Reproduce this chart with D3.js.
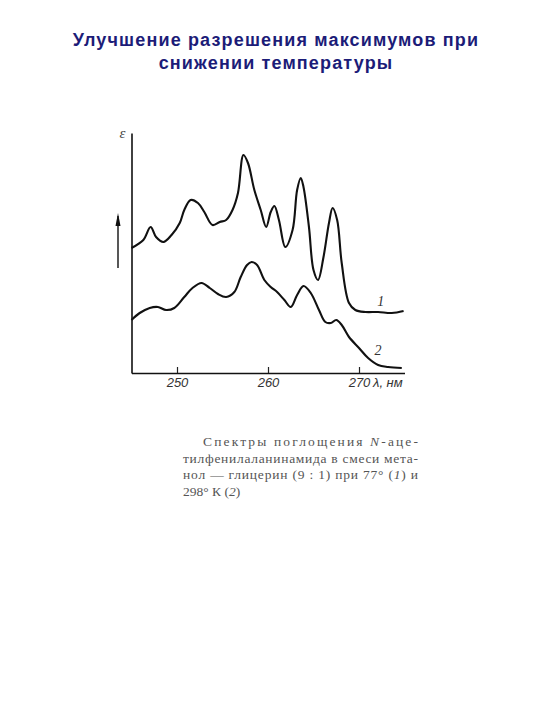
<!DOCTYPE html>
<html><head><meta charset="utf-8">
<script src="https://cdn.jsdelivr.net/npm/d3@7"></script>
<style>
html,body{margin:0;padding:0;background:#fff;}
svg{display:block;}
</style></head>
<body>
<script>
// ---- data ----
const titleLines = ["Улучшение разрешения максимумов при", "снижении температуры"];
const xTicks = [250, 260, 270];
const xUnit = "λ, нм";
const yLabel = "ε";
// curve 1 (77 K)
const lambda1 = [245.0, 246.3, 247.1, 247.7, 248.5, 249.4, 250.3, 250.8, 251.5, 252.3, 253.0, 253.9, 254.7, 255.4, 256.1, 256.7, 257.3, 257.8, 258.5, 259.2, 259.8, 260.3, 260.7, 261.2, 261.9, 262.7, 263.2, 263.6, 263.9, 264.5, 265.0, 265.5, 266.1, 266.7, 267.1, 267.6, 268.1, 268.9, 269.6, 270.7, 272.1, 273.6, 274.9];
const eps1 = [125, 133, 146, 136, 131, 138, 150, 163, 173, 170, 161, 148, 151, 153, 163, 180, 218, 210, 183, 163, 146, 161, 167, 153, 126, 143, 183, 195, 186, 146, 103, 93, 116, 150, 165, 153, 110, 70, 63, 61, 61, 60, 62];
// curve 2 (298 K)
const lambda2 = [245.0, 245.9, 247.0, 247.9, 248.8, 249.7, 250.8, 251.7, 252.7, 253.6, 254.5, 255.4, 256.3, 257.0, 257.7, 258.2, 258.8, 259.6, 260.3, 261.0, 261.8, 262.5, 263.2, 263.9, 264.7, 265.6, 266.3, 266.9, 267.5, 268.1, 268.9, 270.0, 271.0, 272.1, 273.2, 274.7];
const eps2 = [53, 60, 65, 66, 63, 65, 76, 85, 90, 85, 79, 76, 81, 96, 108, 111, 108, 93, 86, 81, 73, 66, 78, 87, 80, 63, 51, 50, 53, 48, 36, 25, 15, 8, 6, 5];
const curveLabels = ["1", "2"];
// caption lines as [text, italic] fragments
const captionLines = [
  [["Спектры поглощения ", false], ["N", true], ["-аце-", false]],
  [["тилфенилаланинамида в смеси мета-", false]],
  [["нол — глицерин (9 : 1) при 77° (", false], ["1", true], [") и", false]],
  [["298° К (", false], ["2", true], [")", false]]
];

const W = 540, H = 720;
const svg = d3.select("body").append("svg").attr("width", W).attr("height", H);

// title
const titleG = svg.append("g")
  .attr("font-family", "'Liberation Sans', Arial, sans-serif")
  .attr("font-weight", "bold").attr("font-size", 18).attr("letter-spacing", 1.15)
  .attr("fill", "#1c1c78").attr("text-anchor", "middle");
titleLines.forEach((t, i) => titleG.append("text").attr("x", 276).attr("y", 46 + i * 23).text(t));

// scales
const x = d3.scaleLinear().domain([245, 275]).range([131.5, 404.5]);
const y = d3.scaleLinear().domain([0, 240]).range([373, 133]);

// axes
const xAxis = d3.axisBottom(x).tickValues(xTicks).tickSize(-6).tickSizeOuter(0).tickPadding(5);
const gx = svg.append("g").attr("transform", `translate(0,${y(0)})`).call(xAxis);
gx.select(".domain").attr("stroke", "#111").attr("stroke-width", 1.6);
gx.selectAll(".tick line").attr("stroke", "#222").attr("stroke-width", 1.2);
gx.selectAll(".tick text").attr("font-family", "'Liberation Sans', Arial, sans-serif")
  .attr("font-style", "italic").attr("font-size", 13).attr("fill", "#333");
gx.append("text").attr("x", x(270) + 14).attr("y", 13.5).attr("text-anchor", "start")
  .attr("font-family", "'Liberation Sans', Arial, sans-serif").attr("font-style", "italic")
  .attr("font-size", 13).attr("fill", "#333").text(xUnit);

const yAxis = d3.axisLeft(y).tickValues([]).tickSizeOuter(0);
const gy = svg.append("g").attr("transform", `translate(${x(245)},0)`).call(yAxis);
gy.select(".domain").attr("stroke", "#111").attr("stroke-width", 1.6);
svg.append("text").attr("x", x(245) - 9).attr("y", y(240) + 5).attr("text-anchor", "middle")
  .attr("font-family", "'Liberation Serif', serif").attr("font-style", "italic")
  .attr("font-size", 15).attr("fill", "#444").text(yLabel);

// arrow beside y axis
svg.append("line").attr("x1", 118).attr("x2", 118).attr("y1", 268).attr("y2", 216)
  .attr("stroke", "#111").attr("stroke-width", 1.4);
svg.append("path").attr("d", "M115.5,226 L118,213 L120.5,226 Z").attr("fill", "#111");

// curves
const line = d3.line().x(d => x(d[0])).y(d => y(d[1])).curve(d3.curveCatmullRom.alpha(0.5));
const s1 = lambda1.map((l, i) => [l, eps1[i]]);
const s2 = lambda2.map((l, i) => [l, eps2[i]]);
[s1, s2].forEach(s => svg.append("path").datum(s).attr("d", line)
  .attr("fill", "none").attr("stroke", "#111").attr("stroke-width", 2.1)
  .attr("stroke-linejoin", "round"));

// curve labels
svg.append("text").attr("x", x(272.0)).attr("y", y(eps1[40]) - 6).text(curveLabels[0])
  .attr("font-family", "'Liberation Serif', serif").attr("font-style", "italic").attr("font-size", 14).attr("fill", "#333");
svg.append("text").attr("x", x(271.7)).attr("y", y(eps2[32]) - 3).text(curveLabels[1])
  .attr("font-family", "'Liberation Serif', serif").attr("font-style", "italic").attr("font-size", 14).attr("fill", "#333");

// caption
const capG = svg.append("g").attr("font-family", "'Liberation Serif', 'DejaVu Serif', serif")
  .attr("font-size", 13.5).attr("fill", "#555");
const capRight = 418, capLeft = 183, indent = 20;
captionLines.forEach((frags, i) => {
  const xs = i === 0 ? capLeft + indent : capLeft;
  const tx = capG.append("text").attr("x", xs).attr("y", 446 + i * 16.5);
  frags.forEach(([t, it]) => tx.append("tspan").attr("font-style", it ? "italic" : "normal").text(t));
  if (i < captionLines.length - 1) tx.attr("textLength", capRight - xs).attr("lengthAdjust", "spacing");
});
</script>
</body></html>
